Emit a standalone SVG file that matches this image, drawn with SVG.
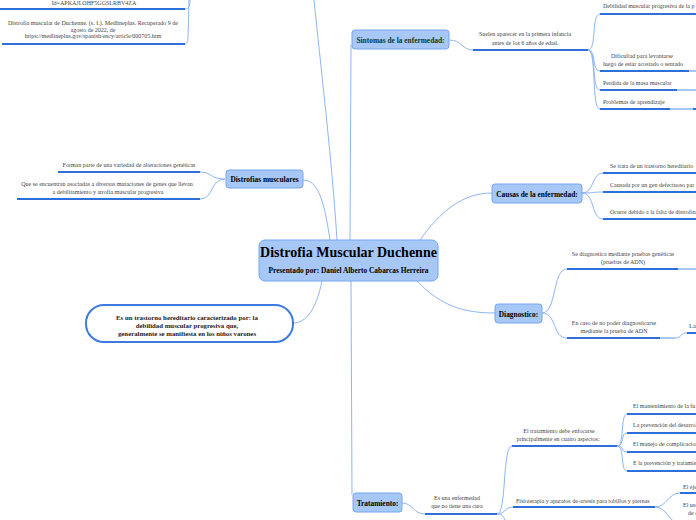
<svg xmlns="http://www.w3.org/2000/svg" width="696" height="520" viewBox="0 0 696 520">
<style>
.bg{fill:#ffffff}
.node{fill:#a7c8f7;stroke:#77a6ee;stroke-width:1}
.nl{font-family:"Liberation Serif",serif;font-weight:bold;font-size:7.4px;fill:#000;text-anchor:middle}
.leaf{font-family:"Liberation Serif",serif;font-size:6px;fill:#444}
.mid{text-anchor:middle}
.ul{stroke:#2f6fdc;stroke-width:2;fill:none}
.ull{stroke:#8db6f5;stroke-width:1.5;fill:none}
.cn{stroke:#8db6f5;stroke-width:1;fill:none}
.pt{font-family:"Liberation Serif",serif;font-weight:bold;font-size:6.8px;fill:#222;text-anchor:middle}
</style>
<rect class="bg" x="0" y="0" width="696" height="520"/>

<g id="connectors">
<path class="cn" d="M337,240 C332,160 320,60 314,0"/>
<path class="cn" d="M330,240 C324,200 318,180 303,180"/>
<path class="cn" d="M350,240 L351,45"/>
<path class="cn" d="M420,240 C440,212 462,193 492,193"/>
<path class="cn" d="M417,281 C440,305 462,313 495,313"/>
<path class="cn" d="M351,281 L352,495"/>
<path class="cn" d="M322,281 C316,310 306,323 293,323"/>
<path class="cn" d="M190,0 C190,6 189,9 185,9"/>
<path class="cn" d="M189,0 L188,37 C188,42 187,44 184,44"/>
<path class="cn" d="M225,179 C210,179 212,172 200,172"/>
<path class="cn" d="M225,179 C210,179 214,199 200,199"/>
<path class="cn" d="M449,40 C462,40 462,50 473,50"/>
<path class="cn" d="M588,50 C597,50 591,14 600,14"/>
<path class="cn" d="M588,50 C597,50 591,71 600,71"/>
<path class="cn" d="M588,50 C597,50 591,90 600,90"/>
<path class="cn" d="M588,50 C597,50 591,109 600,109"/>
<path class="cn" d="M582,193 C595,193 591,173 603,173"/>
<path class="cn" d="M582,193 C595,193 591,192 603,192"/>
<path class="cn" d="M582,193 C595,193 591,219 603,219"/>
<path class="cn" d="M542,313 C557,313 552,269 567,269"/>
<path class="cn" d="M542,313 C557,313 552,338 567,338"/>
<path class="cn" d="M675,338 C682,338 680,333 687,333"/>
<path class="cn" d="M402,503 C413,503 413,514 425,514"/>
<path class="cn" d="M497,514 C507,514 502,446 512,446"/>
<path class="cn" d="M497,514 C505,514 505,507 513,507"/>
<path class="cn" d="M497,514 C503,514 504,518 506,522"/>
<path class="cn" d="M617,446 C625,446 620,414 627,414"/>
<path class="cn" d="M617,446 C625,446 620,433 627,433"/>
<path class="cn" d="M617,446 C625,446 620,452 627,452"/>
<path class="cn" d="M617,446 C625,446 620,471 627,471"/>
<path class="cn" d="M655,507 C667,507 668,493 680,493"/>
<path class="cn" d="M655,507 C667,507 668,522 680,524"/>
</g>

<g id="references">
<text class="leaf mid" x="94" y="5">Id=APKAJLOHF5GGSLRBV4ZA</text>
<line class="ul" x1="0" y1="9" x2="185" y2="9"/>
<text class="leaf mid" x="93" y="25">Distrofia muscular de Duchenne. (s. f.). Medlineplus. Recuperado 9 de</text>
<text class="leaf mid" x="93" y="31.5">agosto de 2022, de</text>
<text class="leaf mid" x="93" y="38">https://medlineplus.gov/spanish/ency/article/000705.htm</text>
<line class="ul" x1="2" y1="44" x2="185" y2="44"/>
</g>

<g id="central">
<rect class="node" x="259" y="240" width="179" height="41" rx="6"/>
<text x="348.5" y="257" style="font-family:'Liberation Serif',serif;font-weight:bold;font-size:14px;fill:#000;text-anchor:middle">Distrofia Muscular Duchenne</text>
<text x="348.5" y="273" style="font-family:'Liberation Serif',serif;font-weight:bold;font-size:7.4px;fill:#000;text-anchor:middle">Presentado por: Daniel Alberto Cabarcas Herreira</text>
</g>

<g id="definicion">
<rect x="86" y="305" width="207" height="37" rx="18" fill="#ffffff" stroke="#3c7ae0" stroke-width="2"/>
<text class="pt" x="187" y="320">Es un trastorno hereditario caracterizado por: la</text>
<text class="pt" x="187" y="328">debilidad muscular progresiva que,</text>
<text class="pt" x="187" y="336">generalmente se manifiesta en los niños varones</text>
</g>

<g id="distrofias">
<rect class="node" x="226" y="170" width="77" height="18" rx="3"/>
<text class="nl" x="264.5" y="181.5">Distrofias musculares</text>
<text class="leaf mid" x="129" y="167">Forman parte de una variedad de alteraciones genéticas</text>
<line class="ul" x1="58" y1="172" x2="200" y2="172"/>
<text class="leaf mid" x="107" y="186">Que se encuentran asociadas a diversas mutaciones de genes que llevan</text>
<text class="leaf mid" x="108" y="194">a debilitamiento y atrofia muscular progresiva</text>
<line class="ul" x1="17" y1="199" x2="200" y2="199"/>
</g>

<g id="sintomas">
<rect class="node" x="352" y="30" width="97" height="19" rx="3"/>
<text class="nl" x="400.5" y="42.5" style="fill:#0b3a2c">Sintomas de la enfermedad:</text>
<text class="leaf mid" x="525" y="36">Suelen aparecer en la primera infancia</text>
<text class="leaf mid" x="525" y="45">antes de los 6 años de edad.</text>
<line class="ul" x1="473" y1="50" x2="588" y2="50"/>
<text class="leaf" x="603" y="8">Debilidad muscular progresiva de la p</text>
<line class="ul" x1="600" y1="14" x2="696" y2="14"/>
<text class="leaf mid" x="642" y="58">Dificultad para levantarse</text>
<text class="leaf mid" x="643" y="66">luego de estar acostado o sentado</text>
<line class="ul" x1="600" y1="71" x2="689" y2="71"/>
<line class="ull" x1="689" y1="71" x2="696" y2="71"/>
<text class="leaf" x="603" y="85">Perdida de la masa muscular</text>
<line class="ul" x1="600" y1="90" x2="677" y2="90"/>
<line class="ull" x1="677" y1="90" x2="696" y2="90"/>
<text class="leaf" x="603" y="104">Problemas de aprendizaje</text>
<line class="ul" x1="600" y1="109" x2="670" y2="109"/>
<line class="ull" x1="670" y1="109" x2="693" y2="109"/>
<line class="ul" x1="693" y1="109" x2="696" y2="109"/>
</g>

<g id="causas">
<rect class="node" x="492" y="184" width="90" height="19" rx="3"/>
<text class="nl" x="537" y="196.5">Causas de la enfermedad:</text>
<text class="leaf" x="610" y="168">Se trata de un trastorno hereditario</text>
<line class="ul" x1="603" y1="173" x2="696" y2="173"/>
<text class="leaf" x="610" y="186.5">Causada por un gen defectuoso par</text>
<line class="ul" x1="603" y1="192" x2="696" y2="192"/>
<text class="leaf" x="610" y="214">Ocurre debido a la falta de distrofin</text>
<line class="ul" x1="603" y1="219" x2="696" y2="219"/>
</g>

<g id="diagnostico">
<rect class="node" x="495" y="304" width="47" height="19" rx="3"/>
<text class="nl" x="518.5" y="316.5">Diagnostico:</text>
<text class="leaf mid" x="623" y="256">Se diagnostica mediante pruebas genéticas</text>
<text class="leaf mid" x="623" y="264">(pruebas de ADN)</text>
<line class="ul" x1="567" y1="269" x2="678" y2="269"/>
<line class="ull" x1="678" y1="269" x2="696" y2="269"/>
<text class="leaf mid" x="614" y="325">En caso de no poder diagnosticarse</text>
<text class="leaf mid" x="614" y="333">mediante la prueba de ADN</text>
<line class="ul" x1="567" y1="338" x2="660" y2="338"/>
<line class="ull" x1="660" y1="338" x2="675" y2="338"/>
<text class="leaf" x="689" y="328" style="font-size:6.4px">La</text>
<line class="ul" x1="687" y1="333" x2="696" y2="333"/>
</g>

<g id="tratamiento">
<rect class="node" x="353" y="493" width="49" height="19" rx="3"/>
<text class="nl" x="377.5" y="505.5">Tratamiento:</text>
<text class="leaf mid" x="457" y="500">Es una enfermedad</text>
<text class="leaf mid" x="457" y="508">que no tiene una cura</text>
<line class="ul" x1="425" y1="514" x2="497" y2="514"/>
<text class="leaf mid" x="559" y="433">El tratamiento debe enfocarse</text>
<text class="leaf mid" x="558" y="441">principalmente en cuatro aspectos:</text>
<line class="ul" x1="512" y1="446" x2="617" y2="446"/>
<text class="leaf" x="633" y="408">El mantenimiento de la fu</text>
<line class="ul" x1="627" y1="414" x2="696" y2="414"/>
<text class="leaf" x="633" y="427">La prevención del desarrol</text>
<line class="ul" x1="627" y1="433" x2="696" y2="433"/>
<text class="leaf" x="633" y="446">El manejo de complicacion</text>
<line class="ul" x1="627" y1="452" x2="696" y2="452"/>
<text class="leaf" x="633" y="465">E la prevención y tratamie</text>
<line class="ul" x1="627" y1="471" x2="696" y2="471"/>
<text class="leaf" x="516" y="503">Fisioterapia y apuratos de ortesis para tobillos y piernas</text>
<line class="ul" x1="513" y1="507" x2="655" y2="507"/>
<text class="leaf" x="683" y="489">El eje</text>
<line class="ul" x1="680" y1="493" x2="696" y2="493"/>
<text class="leaf" x="683" y="507">El uso</text>
<text class="leaf" x="688" y="515">de c</text>
</g>
</svg>
